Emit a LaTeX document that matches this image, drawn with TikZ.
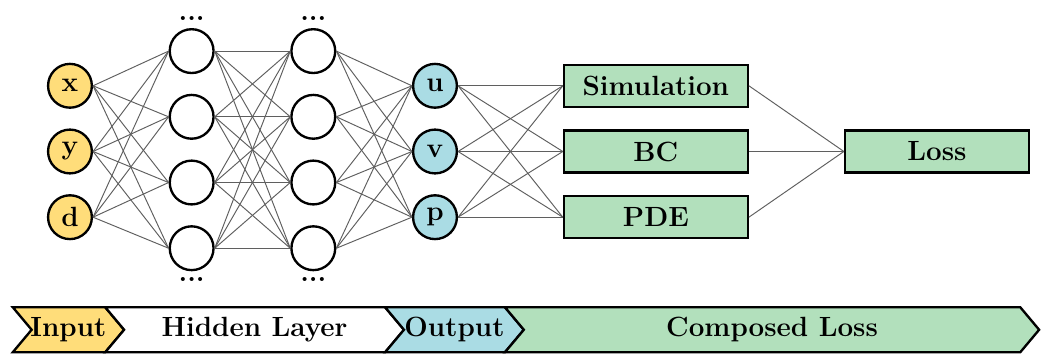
\documentclass[tikz,border=0pt]{standalone}
\usepackage{xcolor}
\usepackage{tikz}
\usetikzlibrary{arrows.meta, positioning}
\definecolor{inyellow}{RGB}{255,221,122}
\definecolor{outblue}{RGB}{170,220,228}
\definecolor{lossgreen}{RGB}{178,224,188}
\definecolor{edgegray}{RGB}{95,95,95}
\newcommand{\labfont}{\fontsize{13}{15}\selectfont\bfseries}

\begin{document}
\begin{tikzpicture}[
    neuron/.style={circle, draw, line width=1.1pt, minimum size=0.72cm, inner sep=0pt, font=\labfont},
    lossbox/.style={rectangle, draw, line width=1.1pt, fill=lossgreen, minimum width=3.02cm, minimum height=0.69cm, font=\labfont},
    conn/.style={edgegray, line width=0.45pt},
    stage/.style={draw, line width=1.1pt, line join=miter},
  ]
  \useasboundingbox (0,0) rectangle (17.16,5.82);

  % Input layer
  \foreach \lbl [count=\i] in {x, y, d}{
    \pgfmathsetmacro{\py}{5.49-1.08*\i}
    \node[neuron, fill=inyellow] (in\i) at (1.15,\py) {\lbl};
  }

  % Hidden layers
  \foreach \l/\px in {1/3.15, 2/5.15}{
    \foreach \i in {1,...,4}{
      \pgfmathsetmacro{\py}{6.06-1.08*\i}
      \node[neuron, fill=white] (h\l\i) at (\px,\py) {};
    }
    \node[font=\labfont] (dotstop\l) at (\px,5.52) {...};
    \node[font=\labfont] (dotsbot\l) at (\px,1.23) {...};
  }

  % Output layer
  \foreach \lbl [count=\i] in {u, v, p}{
    \pgfmathsetmacro{\py}{5.49-1.08*\i}
    \node[neuron, fill=outblue] (out\i) at (7.15,\py) {\lbl};
  }

  % Loss terms
  \foreach \lbl [count=\i] in {Simulation, BC, PDE}{
    \pgfmathsetmacro{\py}{5.49-1.08*\i}
    \node[lossbox] (term\i) at (10.78,\py) {\lbl};
  }
  \node[lossbox] (loss) at (15.40,3.33) {Loss};

  % Connections
  \foreach \i in {1,...,3}{
    \foreach \j in {1,...,4}{
      \draw[conn] (in\i.east) -- (h1\j.west);
    }
  }
  \foreach \i in {1,...,4}{
    \foreach \j in {1,...,4}{
      \draw[conn] (h1\i.east) -- (h2\j.west);
    }
  }
  \foreach \i in {1,...,4}{
    \foreach \j in {1,...,3}{
      \draw[conn] (h2\i.east) -- (out\j.west);
    }
  }
  \foreach \i in {1,...,3}{
    \foreach \j in {1,...,3}{
      \draw[conn] (out\i.east) -- (term\j.west);
    }
    \draw[conn] (term\i.east) -- (loss.west);
  }

  % Stage bar
  \foreach \xa/\xb/\col/\lbl/\name in {0.21/1.73/inyellow/Input/barin, 1.73/6.33/white/Hidden Layer/barhid, 6.33/8.30/outblue/Output/barout, 8.30/16.77/lossgreen/Composed Loss/barloss}{
    \draw[stage, fill=\col] (\xa,0.77) -- (\xb,0.77) -- (\xb+0.31,0.40) -- (\xb,0.03) -- (\xa,0.03) -- (\xa+0.31,0.40) -- cycle;
    \node[font=\labfont] (\name) at ({(\xa+\xb)/2+0.155},0.40) {\lbl};
  }
\end{tikzpicture}
\end{document}
